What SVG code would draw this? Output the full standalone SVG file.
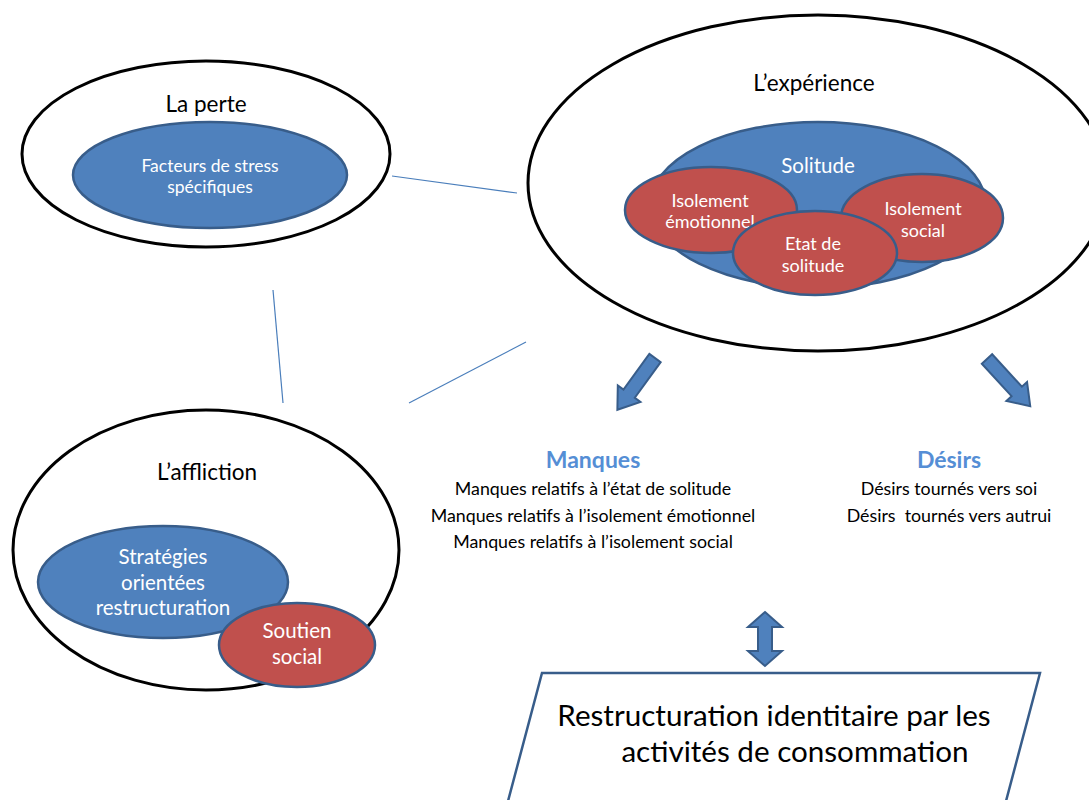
<svg xmlns="http://www.w3.org/2000/svg" width="1089" height="800" viewBox="0 0 1089 800">
<style>
.outer{fill:#fff;stroke:#000;stroke-width:3}
.blue{fill:#4F81BD;stroke:#385D8A;stroke-width:2.5}
.red{fill:#C0504D;stroke:#385D8A;stroke-width:2.5}
.arrow{fill:#4F81BD;stroke:#385D8A;stroke-width:2;stroke-linejoin:miter}
.conn{stroke:#4A7EBB;stroke-width:1.2;fill:none}
text{font-family:Lato,"Liberation Sans",sans-serif;text-anchor:middle}
.w{fill:#fff}
.k{fill:#000}
.title{font-size:22.5px}
.head{font-size:23px;font-weight:bold;fill:#558ED5}
.list{font-size:17.8px;fill:#000;white-space:pre}
</style>
<defs>
<path id="barrow" d="M-7,0 L7,0 L7,44 L14,44 L0,64 L-14,44 L-7,44 Z"/>
</defs>
<g id="connectors">
<line class="conn" x1="392" y1="176" x2="517" y2="193"/>
<line class="conn" x1="273" y1="290" x2="283" y2="403"/>
<line class="conn" x1="526" y1="342" x2="409" y2="403"/>
</g>
<g id="la-perte">
<ellipse class="outer" cx="206" cy="154" rx="184" ry="93"/>
<text class="k title" x="206" y="112">La perte</text>
<ellipse class="blue" cx="210" cy="175" rx="137" ry="53"/>
<text class="w" font-size="17.5" x="210" y="172">Facteurs de stress</text>
<text class="w" font-size="17.5" x="210" y="193">spécifiques</text>
</g>
<g id="experience">
<ellipse class="outer" cx="818" cy="183" rx="290" ry="168"/>
<text class="k title" x="814" y="91">L’expérience</text>
<g id="solitude">
<ellipse class="blue" cx="818" cy="205" rx="168" ry="83"/>
<text class="w" font-size="20.5" x="818" y="173">Solitude</text>
</g>
<g id="isolement-emotionnel">
<ellipse class="red" cx="711" cy="210" rx="86" ry="43"/>
<text class="w" font-size="18" x="710" y="207">Isolement</text>
<text class="w" font-size="18" x="710" y="228">émotionnel</text>
</g>
<g id="isolement-social">
<ellipse class="red" cx="922" cy="218" rx="81" ry="44"/>
<text class="w" font-size="18" x="923" y="215">Isolement</text>
<text class="w" font-size="18" x="923" y="237">social</text>
</g>
<g id="etat-solitude">
<ellipse class="red" cx="815" cy="253" rx="82" ry="42"/>
<text class="w" font-size="18" x="813" y="250">Etat de</text>
<text class="w" font-size="18" x="813" y="272">solitude</text>
</g>
</g>
<g id="affliction">
<ellipse class="outer" cx="206" cy="550" rx="193" ry="140"/>
<text class="k title" x="207" y="480">L’affliction</text>
<g id="strategies">
<ellipse class="blue" cx="163" cy="582" rx="125" ry="56"/>
<text class="w" font-size="20.5" x="163" y="564">Stratégies</text>
<text class="w" font-size="20.5" x="163" y="590">orientées</text>
<text class="w" font-size="20.5" x="163" y="615">restructuration</text>
</g>
<g id="soutien">
<ellipse class="red" cx="297" cy="645" rx="78" ry="42"/>
<text class="w" font-size="20.5" x="297" y="638">Soutien</text>
<text class="w" font-size="20.5" x="297" y="664">social</text>
</g>
</g>
<g id="arrows">
<use href="#barrow" class="arrow" transform="translate(655,358) rotate(36)"/>
<use href="#barrow" class="arrow" transform="translate(987,359) rotate(-42.5)"/>
<path class="arrow" d="M765,612 L782,627 L772,627 L772,651 L782,651 L765,666 L748,651 L758,651 L758,627 L748,627 Z"/>
</g>
<g id="manques">
<text class="head" x="593" y="468">Manques</text>
<text class="list" x="593" y="495">Manques relatifs à l’état de solitude</text>
<text class="list" x="593" y="522">Manques relatifs à l’isolement émotionnel</text>
<text class="list" x="593" y="548">Manques relatifs à l’isolement social</text>
</g>
<g id="desirs">
<text class="head" x="949" y="468">Désirs</text>
<text class="list" x="949" y="495">Désirs tournés vers soi</text>
<text class="list" x="949" y="522">Désirs  tournés vers autrui</text>
</g>
<g id="restructuration">
<polygon points="542,673 1040,673 1001,820 503,820" fill="#fff" stroke="#385D8A" stroke-width="2.5"/>
<text class="k" font-size="29.6" x="774" y="726">Restructuration identitaire par les</text>
<text class="k" font-size="29.6" x="795" y="762">activités de consommation</text>
</g>
</svg>
